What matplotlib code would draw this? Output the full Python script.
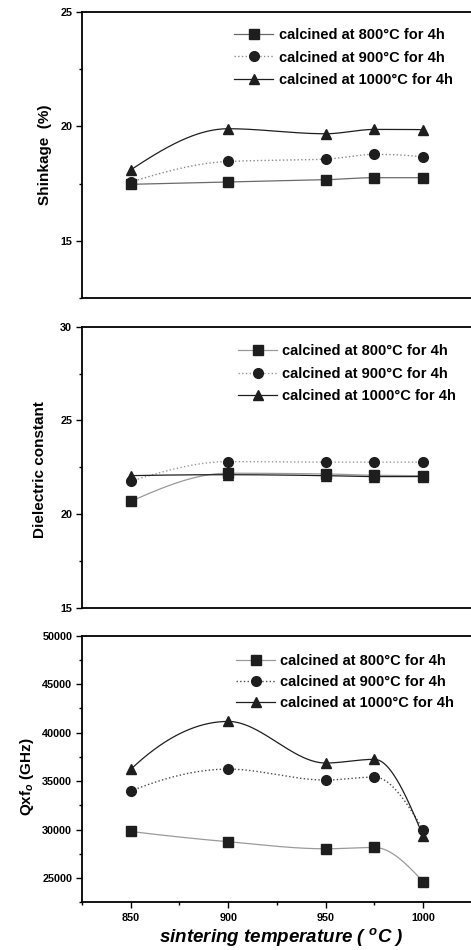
import numpy as np
import matplotlib.pyplot as plt
from matplotlib.lines import Line2D
from matplotlib.ticker import MultipleLocator

plt.rcParams['font.family'] = ['Liberation Sans', 'DejaVu Sans']
plt.rcParams['font.weight'] = 'bold'
plt.rcParams['mathtext.fontset'] = 'custom'
plt.rcParams['mathtext.rm'] = 'Liberation Sans:bold'
plt.rcParams['mathtext.it'] = 'Liberation Sans:italic:bold'
plt.rcParams['mathtext.bf'] = 'Liberation Sans:bold'

temps = [850, 900, 950, 975, 1000]
series_labels = ["calcined at 800°C for 4h",
                 "calcined at 900°C for 4h",
                 "calcined at 1000°C for 4h"]

shrink_800 = [17.47, 17.57, 17.67, 17.76, 17.76]
shrink_900 = [17.57, 18.47, 18.57, 18.78, 18.66]
shrink_1000 = [18.10, 19.90, 19.68, 19.87, 19.86]

eps_800 = [20.68, 22.18, 22.14, 22.07, 22.05]
eps_900 = [21.75, 22.80, 22.77, 22.77, 22.77]
eps_1000 = [22.05, 22.10, 22.05, 22.00, 22.00]

qf_800 = [29800, 28740, 28010, 28150, 24620]
qf_900 = [33970, 36230, 35100, 35410, 29980]
qf_1000 = [36200, 41150, 36860, 37240, 29310]

markers = ['s', 'o', '^']


def smooth_line(x, y, n=300):
    # monotone cubic (pchip) curve, only for the drawn connecting line
    x = np.asarray(x, float)
    y = np.asarray(y, float)
    m = len(x)
    h = np.diff(x)
    delta = np.diff(y) / h
    d = np.zeros(m)
    for k in range(1, m - 1):
        if delta[k - 1] * delta[k] > 0:
            w1 = 2 * h[k] + h[k - 1]
            w2 = h[k] + 2 * h[k - 1]
            d[k] = (w1 + w2) / (w1 / delta[k - 1] + w2 / delta[k])
    for k, (h0, h1, d0, d1) in ((0, (h[0], h[1], delta[0], delta[1])),
                                (m - 1, (h[-1], h[-2], delta[-1], delta[-2]))):
        v = ((2 * h0 + h1) * d0 - h0 * d1) / (h0 + h1)
        if np.sign(v) != np.sign(d0):
            v = 0.0
        elif np.sign(d0) != np.sign(d1) and abs(v) > abs(3 * d0):
            v = 3 * d0
        d[k] = v
    xs = np.linspace(x[0], x[-1], n)
    idx = np.clip(np.searchsorted(x, xs) - 1, 0, m - 2)
    t = (xs - x[idx]) / h[idx]
    h00 = 2 * t ** 3 - 3 * t ** 2 + 1
    h10 = t ** 3 - 2 * t ** 2 + t
    h01 = -2 * t ** 3 + 3 * t ** 2
    h11 = t ** 3 - t ** 2
    ys = h00 * y[idx] + h10 * h[idx] * d[idx] + h01 * y[idx + 1] + h11 * h[idx] * d[idx + 1]
    return xs, ys


def draw_panel(ax, data, styles, ylim, major, ylabel, label_x, label_y,
               leg_xy, spacing):
    handles = []
    for vals, mk, (lc, ls, lw), lab in zip(data, markers, styles, series_labels):
        xs, ys = smooth_line(temps, vals)
        ax.plot(xs, ys, color=lc, ls=ls, lw=lw, zorder=2)
        ax.plot(temps, vals, mk, ls='none', color='#1e1e1e', ms=7, zorder=3)
        handles.append(Line2D([], [], color=lc, ls=ls, lw=lw, marker=mk,
                              mfc='#1e1e1e', mec='#1e1e1e', ms=7, label=lab))
    ax.set_xlim(825, 1025)
    ax.set_ylim(*ylim)
    ax.yaxis.set_major_locator(MultipleLocator(major))
    ax.yaxis.set_minor_locator(MultipleLocator(major / 2))
    ax.xaxis.set_major_locator(MultipleLocator(50))
    ax.xaxis.set_minor_locator(MultipleLocator(25))
    ax.tick_params(which='major', direction='out', length=4.5, width=1,
                   labelsize=7.8, pad=2.5)
    ax.tick_params(which='minor', direction='out', length=2.5, width=1)
    for s in ax.spines.values():
        s.set_linewidth(1.3)
    ax.set_ylabel(ylabel, fontsize=11, fontweight='bold')
    ax.yaxis.set_label_coords(label_x, label_y)
    ax.legend(handles=handles, loc='upper left', bbox_to_anchor=leg_xy,
              frameon=False, fontsize=10.5, handlelength=2.7,
              handletextpad=0.35, labelspacing=spacing, borderpad=0,
              borderaxespad=0, numpoints=1)


fig = plt.figure(figsize=(4.71, 9.5), dpi=100)
ax1 = fig.add_axes([0.174, 0.6863, 0.828, 0.301])
ax2 = fig.add_axes([0.174, 0.3603, 0.828, 0.2958])
ax3 = fig.add_axes([0.174, 0.0503, 0.828, 0.2806])

draw_panel(ax1, [shrink_800, shrink_900, shrink_1000],
           [('#6a6a6a', '-', 0.9), ('#8a8a8a', ':', 1.0), ('#1e1e1e', '-', 0.9)],
           (12.5, 25), 5, 'Shinkage  (%)', -0.078, 0.5, (0.39, 0.945), 0.6)
draw_panel(ax2, [eps_800, eps_900, eps_1000],
           [('#9a9a9a', '-', 0.9), ('#9a9a9a', ':', 1.0), ('#1e1e1e', '-', 0.9)],
           (15, 30), 5, 'Dielectric constant', -0.09, 0.49, (0.40, 0.937), 0.58)
draw_panel(ax3, [qf_800, qf_900, qf_1000],
           [('#9a9a9a', '-', 0.9), ('#4a4a4a', ':', 1.0), ('#1e1e1e', '-', 0.9)],
           (22500, 50000), 5000, 'Qxf$_o$ (GHz)', -0.118, 0.47, (0.395, 0.93), 0.47)

for ax in (ax1, ax2):
    ax.tick_params(axis='x', which='both', bottom=False, labelbottom=False)
ax3.tick_params(axis='x', which='major', pad=3)
ax3.set_xlabel('sintering temperature ( $^{o}$C )', fontsize=13.5,
               fontweight='bold', fontstyle='italic')
ax3.xaxis.set_label_coords(0.51, -0.09)

fig.savefig('out.png', dpi=100, facecolor='white')
